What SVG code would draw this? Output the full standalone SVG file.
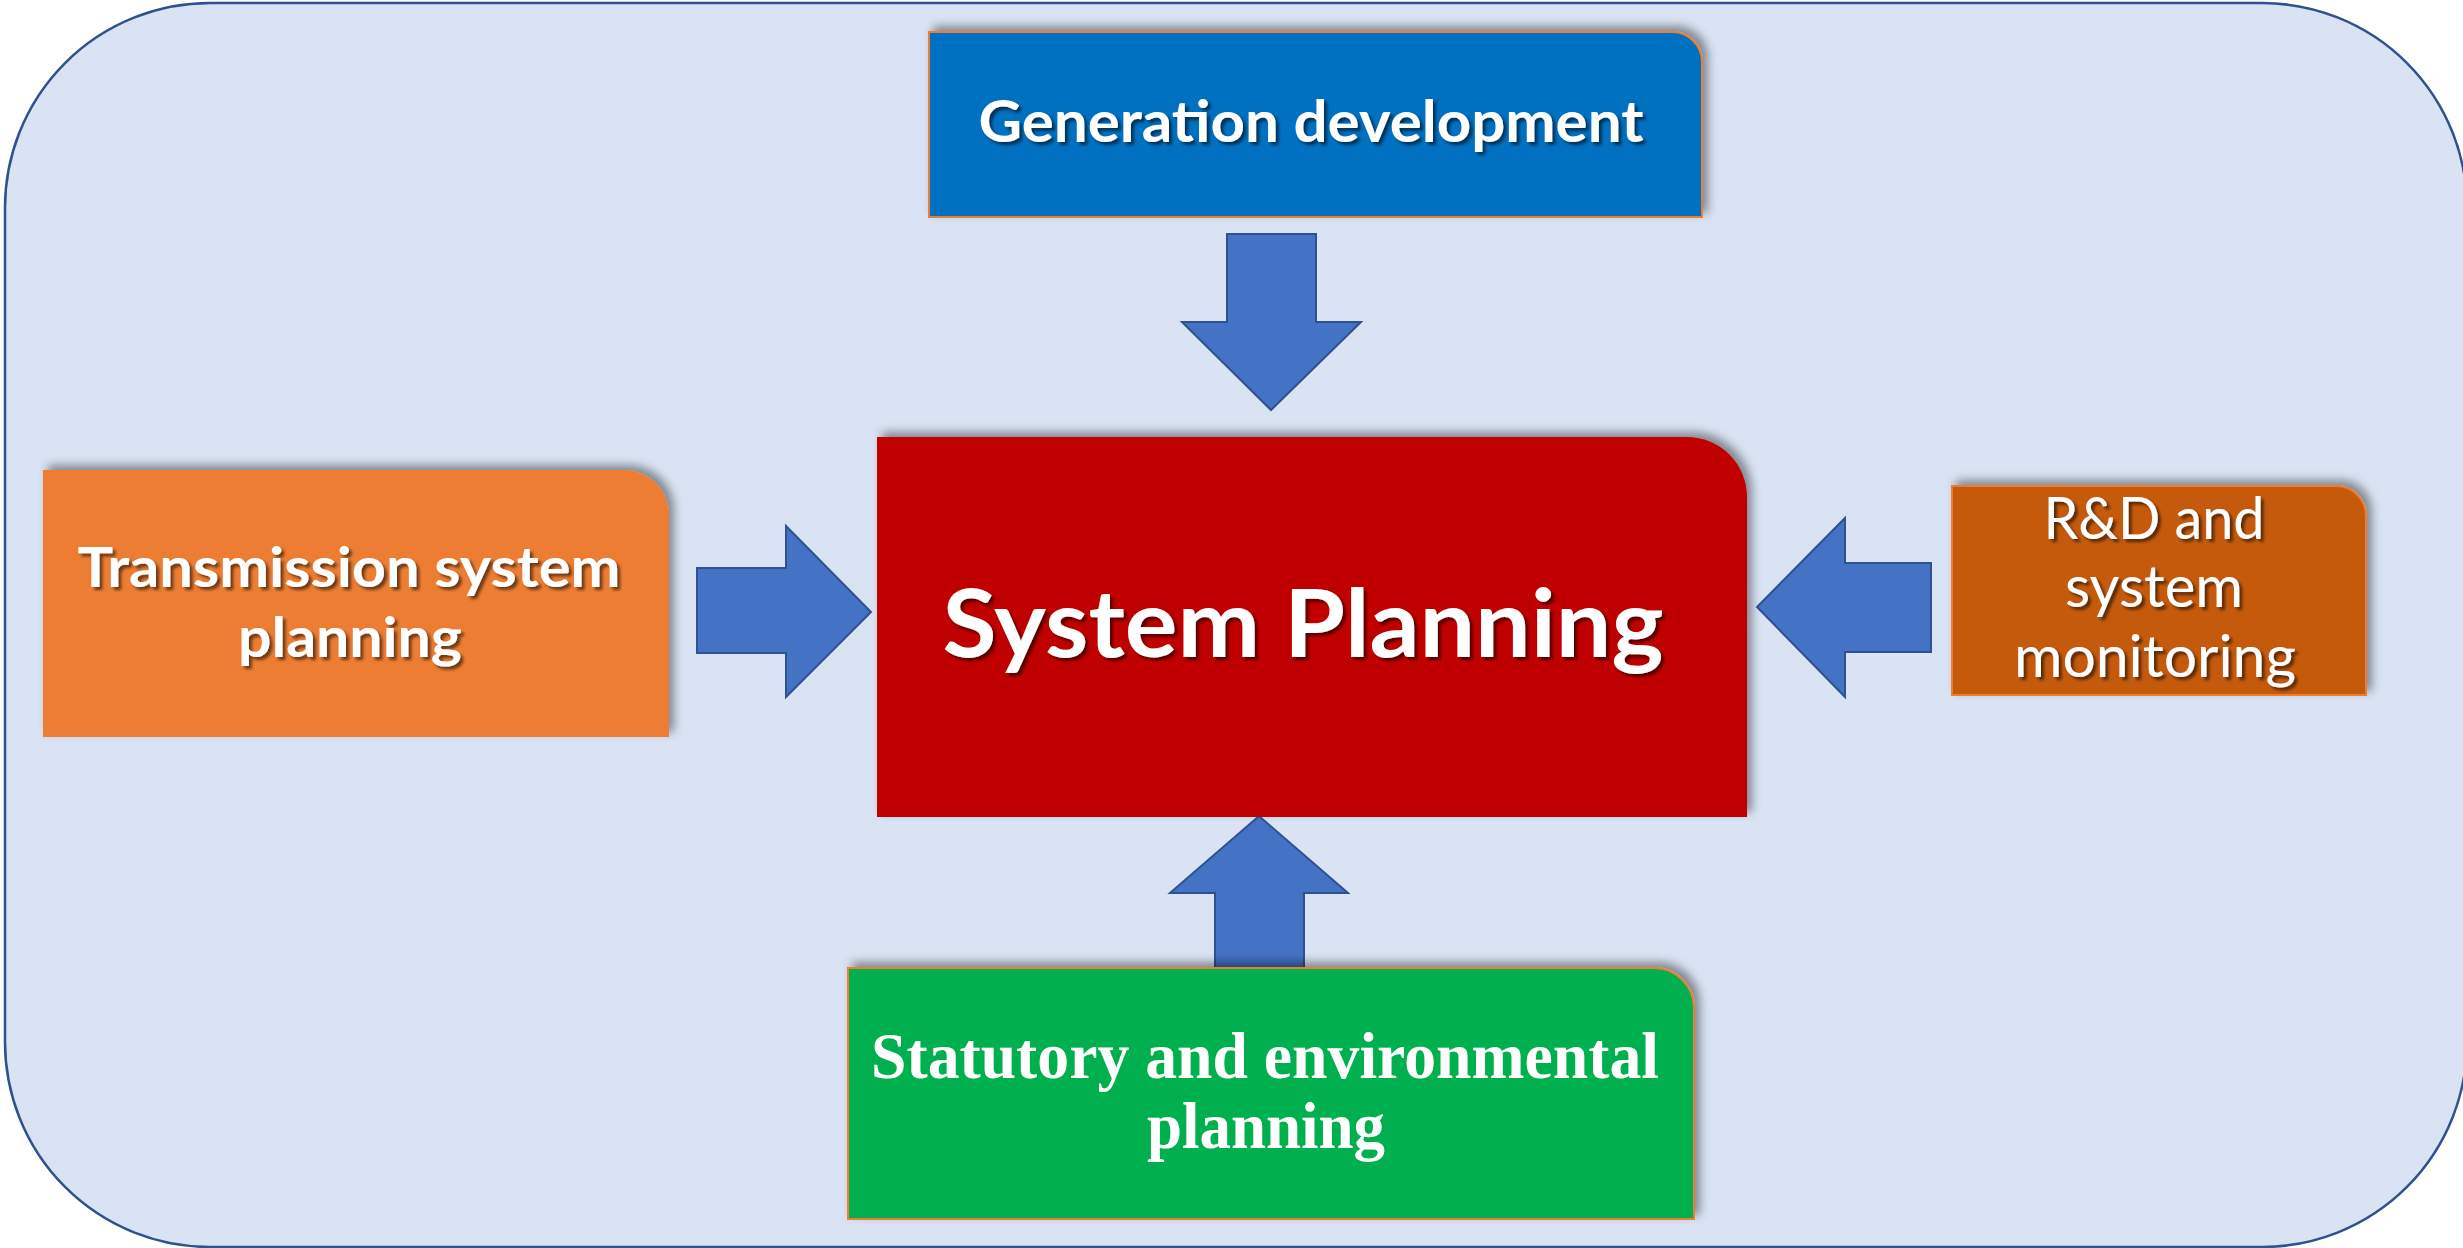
<svg xmlns="http://www.w3.org/2000/svg" width="2463" height="1248" viewBox="0 0 2463 1248">
<defs>
<filter id="boxShadow" x="-10%" y="-20%" width="120%" height="140%">
<feDropShadow dx="5" dy="-5" stdDeviation="5" flood-color="#000" flood-opacity="0.4"/>
</filter>
<filter id="txtShadow" x="-5%" y="-20%" width="110%" height="150%">
<feDropShadow dx="3" dy="3" stdDeviation="1.5" flood-color="#000" flood-opacity="0.55"/>
</filter>
</defs>
<style>
.bg{fill:#DAE3F3;stroke:#2F528F;stroke-width:2.5}
.arrow{fill:#4472C4;stroke:#2F528F;stroke-width:2;stroke-linejoin:miter}
.box{filter:url(#boxShadow)}
.sans{font-family:Lato,"Open Sans","Liberation Sans",sans-serif;fill:#fff;text-anchor:middle}
.b{font-weight:bold}
.serif{font-family:"Liberation Serif","Times New Roman",serif;font-weight:bold;fill:#fff;text-anchor:middle}
.ts{filter:url(#txtShadow)}
</style>
<rect class="bg" x="5" y="3" width="2462" height="1244" rx="205" ry="205"/>
<g id="connectors">
<polygon class="arrow" points="1227,234 1316,234 1316,322 1361,322 1271,410 1182,322 1227,322"/>
<polygon class="arrow" points="697,568 786,568 786,526 871,612 786,697 786,653 697,653"/>
<polygon class="arrow" points="1931,563 1845,563 1845,518 1757,607 1845,697 1845,652 1931,652"/>
<polygon class="arrow" points="1215,968 1215,893 1170,893 1259,816 1348,893 1304,893 1304,968"/>
</g>
<g id="generation">
<path class="box" d="M929,32 H1672 A30,30 0 0 1 1702,62 V217 H929 Z" fill="#0070C0" stroke="#ED7D31" stroke-width="2"/>
<text class="sans b ts" x="1311" y="142" font-size="57" textLength="665" lengthAdjust="spacingAndGlyphs">Generation development</text>
</g>
<g id="system-planning">
<path class="box" d="M877,437 H1687 A60,60 0 0 1 1747,497 V817 H877 Z" fill="#C00000"/>
<text class="sans b ts" x="1303" y="657" font-size="94" textLength="721" lengthAdjust="spacingAndGlyphs">System Planning</text>
</g>
<g id="transmission">
<path class="box" d="M43,470 H624 A45,45 0 0 1 669,515 V737 H43 Z" fill="#ED7D31"/>
<text class="sans b ts" x="349" y="587" font-size="56" textLength="543" lengthAdjust="spacingAndGlyphs">Transmission system</text>
<text class="sans b ts" x="350" y="657" font-size="56" textLength="224" lengthAdjust="spacingAndGlyphs">planning</text>
</g>
<g id="rnd">
<path class="box" d="M1952,486 H2336 A30,30 0 0 1 2366,516 V695 H1952 Z" fill="#C55A11" stroke="#ED7D31" stroke-width="2"/>
<text class="sans ts" x="2154" y="539" font-size="58" textLength="221" lengthAdjust="spacingAndGlyphs">R&amp;D and</text>
<text class="sans ts" x="2154" y="607" font-size="58" textLength="178" lengthAdjust="spacingAndGlyphs">system</text>
<text class="sans ts" x="2155" y="677" font-size="58" textLength="282" lengthAdjust="spacingAndGlyphs">monitoring</text>
</g>
<g id="statutory">
<path class="box" d="M848,968 H1654 A40,40 0 0 1 1694,1008 V1219 H848 Z" fill="#00B050" stroke="#ED7D31" stroke-width="2"/>
<text class="serif" x="1265" y="1078" font-size="65" textLength="788" lengthAdjust="spacingAndGlyphs">Statutory and environmental</text>
<text class="serif" x="1266" y="1148" font-size="65" textLength="238" lengthAdjust="spacingAndGlyphs">planning</text>
</g>
</svg>
